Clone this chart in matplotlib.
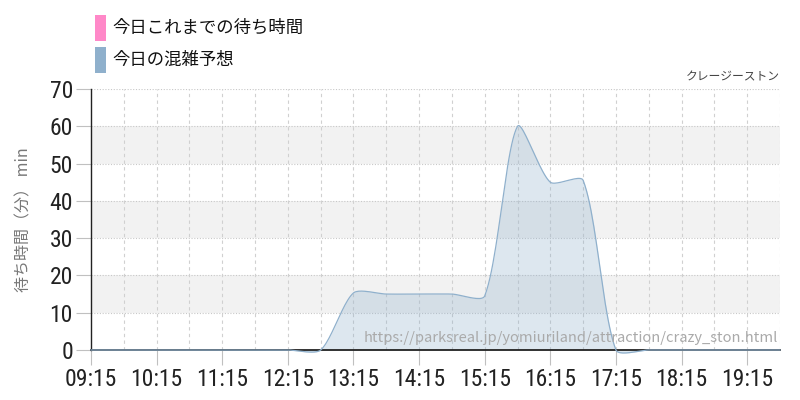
import numpy as np
import matplotlib
matplotlib.use("Agg")
import matplotlib.pyplot as plt
from matplotlib.patches import Rectangle

plt.rcParams['font.family'] = ['Noto Sans CJK JP', 'DejaVu Sans']

# ---- data (30 min steps) ----
times = ["09:15", "09:45", "10:15", "10:45", "11:15", "11:45", "12:15", "12:45",
         "13:15", "13:45", "14:15", "14:45", "15:15", "15:45", "16:15", "16:45",
         "17:15", "17:45", "18:15", "18:45", "19:15", "19:45"]
forecast = [0, 0, 0, 0, 0, 0, 0, 0,
            15.3, 15, 15, 15, 14.5, 60, 45, 45.5,
            0, 0, 0, 0, 0, 0]
tick_labels = ["09:15", "10:15", "11:15", "12:15", "13:15", "14:15",
               "15:15", "16:15", "17:15", "18:15", "19:15"]
legend_labels = ["今日これまでの待ち時間", "今日の混雑予想"]
legend_colors = ["#ff88c8", "#8fb0cc"]
title = "クレージーストン"
ylabel = "待ち時間（分） min"
url = "https://parksreal.jp/yomiuriland/attraction/crazy_ston.html"

TICK_FONT = ["Roboto Condensed", "Roboto", "DejaVu Sans"]


def to_min(t):
    h, m = t.split(":")
    return int(h) * 60 + int(m)


def chartjs_spline(xs, ys, sx, sy, tension=0.25, steps=24):
    # bezier like chart.js line tension, distances measured in pixels
    px = np.array(xs, float) * sx
    py = np.array(ys, float) * sy
    n = len(px)
    cp_prev = np.zeros((n, 2))
    cp_next = np.zeros((n, 2))
    for i in range(n):
        p0 = i - 1 if i > 0 else i
        p2 = i + 1 if i < n - 1 else i
        d01 = np.hypot(px[i] - px[p0], py[i] - py[p0])
        d12 = np.hypot(px[p2] - px[i], py[p2] - py[i])
        tot = d01 + d12
        s01 = d01 / tot if tot else 0
        s12 = d12 / tot if tot else 0
        fa, fb = tension * s01, tension * s12
        dx, dy = px[p2] - px[p0], py[p2] - py[p0]
        cp_prev[i] = (px[i] - fa * dx, py[i] - fa * dy)
        cp_next[i] = (px[i] + fb * dx, py[i] + fb * dy)
    outx, outy = [px[0]], [py[0]]
    t = np.linspace(0, 1, steps)[1:]
    for i in range(n - 1):
        P0 = np.array([px[i], py[i]])
        P1 = cp_next[i]
        P2 = cp_prev[i + 1]
        P3 = np.array([px[i + 1], py[i + 1]])
        for tt in t:
            b = ((1 - tt) ** 3) * P0 + 3 * ((1 - tt) ** 2) * tt * P1 \
                + 3 * (1 - tt) * tt ** 2 * P2 + tt ** 3 * P3
            outx.append(b[0])
            outy.append(b[1])
    return np.array(outx) / sx, np.array(outy) / sy


x = np.array([to_min(t) for t in times])
xmin, xmax = x[0], x[-1]

fig = plt.figure(figsize=(8, 4), dpi=100)
ax = fig.add_axes([0.11375, 0.125, 0.86125, 0.6525])
ax.set_xlim(xmin, xmax)
ax.set_ylim(0, 70)

# grey bands
for lo in (10, 30, 50):
    ax.axhspan(lo, lo + 10, color="#f2f2f2", zorder=0, lw=0)

# grid
for v in range(10, 71, 10):
    ax.axhline(v, color="#c8c8c8", lw=0.8, ls=(0, (1, 1.5)), zorder=1)
for xv in x[1:]:
    ax.axvline(xv, color="#d0d0d0", lw=0.8, ls=(0, (3, 3)), zorder=1)

sx = (780 - 91) / (xmax - xmin)
sy = (350 - 89) / 70.0
cx, cy = chartjs_spline(x, forecast, sx, sy)
ax.fill_between(cx, cy, 0, color="#8fb0cc", alpha=0.3, lw=0, zorder=2, clip_on=False)
ax.plot(cx, cy, color="#8fb0cc", lw=0.9, zorder=3, clip_on=False)

ticks = [to_min(t) for t in tick_labels]
ax.set_xticks(ticks)
ax.set_xticklabels(tick_labels)
ax.set_yticks(range(0, 71, 10))
ax.tick_params(axis="both", length=11, width=0.8, color="#c0c0c0",
               labelsize=17, labelcolor="#222222", pad=2)
for lab in ax.get_xticklabels() + ax.get_yticklabels():
    lab.set_family(TICK_FONT)

for s in ("top", "right"):
    ax.spines[s].set_visible(False)
ax.spines["left"].set_color("#222222")
ax.spines["bottom"].set_color("#222222")
ax.spines["left"].set_linewidth(1.0)
ax.spines["bottom"].set_linewidth(1.3)

ax.set_ylabel(ylabel, color="#777777", fontsize=11.5, labelpad=12)
ax.text(1.0, 1.02, title, transform=ax.transAxes, ha="right", va="bottom",
        fontsize=8.5, color="#444444")
ax.text(0.997, 0.045, url, transform=ax.transAxes, ha="right", va="center",
        fontsize=10.6, color="#aaaaaa", zorder=4)

# legend
for i, (lab, col) in enumerate(zip(legend_labels, legend_colors)):
    ytop = 15 + i * 32
    fig.add_artist(Rectangle((95 / 800, 1 - (ytop + 26) / 400), 11 / 800, 26 / 400,
                             transform=fig.transFigure, color=col, lw=0))
    fig.text(112 / 800, 1 - (ytop + 13) / 400, lab, fontsize=12.5,
             color="#111111", va="center", ha="left")

fig.savefig("out.png", dpi=100)
